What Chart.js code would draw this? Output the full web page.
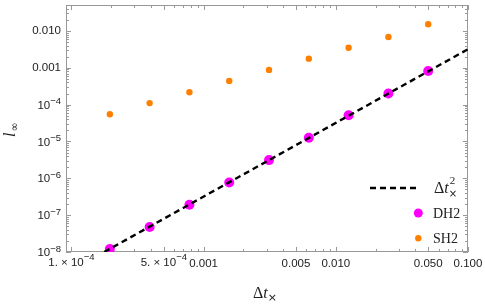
<!DOCTYPE html>
<html>
<head>
<meta charset="utf-8">
<script src="https://cdn.jsdelivr.net/npm/chart.js@4.4.1/dist/chart.umd.min.js"></script>
<style>
  html, body { margin: 0; padding: 0; background: #fff; }
  #wrap { width: 485px; height: 306px; }
</style>
</head>
<body>
<div id="wrap"><canvas id="errorChart" width="485" height="306"></canvas></div>
<script>
// time steps (halved each run) and the max-norm errors
const timeSteps = [0.0001953125, 0.000390625, 0.00078125, 0.0015625, 0.003125, 0.00625, 0.0125, 0.025, 0.05];
const dh2Errors = [1.2e-8, 4.75e-8, 1.91e-7, 7.7e-7, 3.12e-6, 1.26e-5, 5.18e-5, 2.0e-4, 8.23e-4];
const sh2Errors = [5.5e-5, 1.10e-4, 2.18e-4, 4.41e-4, 8.77e-4, 1.77e-3, 3.52e-3, 6.88e-3, 1.52e-2];

// reference slope line, end points
const refLineX = [0.000177, 0.1];
const refLineY = [1.0e-8, 3.2e-3];

// "^" marks a superscript part
const xTickValues = [1e-4, 5e-4, 1e-3, 5e-3, 1e-2, 5e-2, 1e-1];
const xTickLabels = ["1. × 10^−4", "5. × 10^−4", "0.001", "0.005", "0.010", "0.050", "0.100"];
const yTickValues = [1e-8, 1e-7, 1e-6, 1e-5, 1e-4, 1e-3, 1e-2];
const yTickLabels = ["10^−8", "10^−7", "10^−6", "10^−5", "10^−4", "0.001", "0.010"];

const legendLabels = ["Δt", "DH2", "SH2"];

const frameColor = "#999999";
const textColor = "#222222";
const dh2Color = "#ff00ff";
const sh2Color = "#ff8000";
const tickFont = "11.5px 'Liberation Sans'";
const supFont = "9.5px 'Liberation Sans'";

function logTickList(min, max) {
    const list = [];
    for (let e = -10; e <= 1; e++) {
        for (let k = 1; k <= 9; k++) {
            const v = k * Math.pow(10, e);
            if (v >= min * 0.9999 && v <= max * 1.0001) list.push(v);
        }
    }
    return list;
}

function isNear(list, v) {
    return list.some(t => Math.abs(t - v) / t < 1e-6);
}

// draws "base^exp" with a raised, smaller exponent
function drawSupLabel(ctx, text, x, y, align) {
    const [base, exp] = text.split("^");
    ctx.font = tickFont;
    const wb = ctx.measureText(base).width;
    ctx.font = supFont;
    const we = ctx.measureText(exp).width;
    let start = x;
    if (align === "center") start = x - (wb + we) / 2;
    if (align === "right") start = x - (wb + we);
    ctx.textAlign = "left";
    ctx.font = tickFont;
    ctx.fillText(base, start, y);
    ctx.font = supFont;
    ctx.fillText(exp, start + wb, y - 4);
}

const framePlugin = {
    id: "frame",
    beforeDatasetsDraw(chart) {
        const ctx = chart.ctx;
        const area = chart.chartArea;
        const xs = chart.scales.x;
        const ys = chart.scales.y;

        ctx.save();
        ctx.strokeStyle = frameColor;
        ctx.lineWidth = 1;
        ctx.strokeRect(area.left + 0.5, area.top + 0.5, area.right - area.left - 1, area.bottom - area.top - 1);

        ctx.beginPath();
        logTickList(xs.min, xs.max).forEach(v => {
            const px = Math.round(xs.getPixelForValue(v)) + 0.5;
            const len = isNear(xTickValues, v) ? 5 : 3;
            ctx.moveTo(px, area.bottom);
            ctx.lineTo(px, area.bottom - len);
            ctx.moveTo(px, area.top);
            ctx.lineTo(px, area.top + len);
        });
        logTickList(ys.min, ys.max).forEach(v => {
            const py = Math.round(ys.getPixelForValue(v)) + 0.5;
            const len = isNear(yTickValues, v) ? 5 : 3;
            ctx.moveTo(area.left, py);
            ctx.lineTo(area.left + len, py);
            ctx.moveTo(area.right, py);
            ctx.lineTo(area.right - len, py);
        });
        ctx.stroke();

        // tick labels with exponents (plain ones are drawn by the scales)
        ctx.fillStyle = textColor;
        ctx.textBaseline = "top";
        xTickValues.forEach((v, i) => {
            if (xTickLabels[i].includes("^")) {
                drawSupLabel(ctx, xTickLabels[i], xs.getPixelForValue(v), area.bottom + 5, "center");
            }
        });
        ctx.textBaseline = "middle";
        yTickValues.forEach((v, i) => {
            if (yTickLabels[i].includes("^")) {
                drawSupLabel(ctx, yTickLabels[i], area.left - 5, ys.getPixelForValue(v) + 1, "right");
            }
        });
        ctx.restore();
    },
    afterDraw(chart) {
        const ctx = chart.ctx;
        ctx.save();
        ctx.fillStyle = textColor;
        ctx.textBaseline = "alphabetic";

        // x axis title: Δt×
        ctx.textAlign = "left";
        ctx.font = "16px 'Liberation Serif'";
        let x = 253;
        ctx.fillText("Δ", x, 298);
        x += ctx.measureText("Δ").width;
        ctx.font = "italic 16px 'Liberation Serif'";
        ctx.fillText("t", x, 298);
        x += ctx.measureText("t").width;
        ctx.font = "11px 'DejaVu Sans'";
        ctx.fillText("×", x, 301);

        // y axis title: l∞
        ctx.save();
        ctx.translate(15, 137);
        ctx.rotate(-Math.PI / 2);
        ctx.font = "italic 16px 'Liberation Serif'";
        ctx.fillText("l", 0, 0);
        const lw = ctx.measureText("l").width;
        ctx.font = "11px 'DejaVu Sans'";
        ctx.fillText("∞", lw + 1, 3);
        ctx.restore();

        // legend
        ctx.strokeStyle = "#000";
        ctx.lineWidth = 2.4;
        ctx.setLineDash([6, 4]);
        ctx.beginPath();
        ctx.moveTo(370, 188);
        ctx.lineTo(418, 188);
        ctx.stroke();
        ctx.setLineDash([]);

        ctx.font = "16px 'Liberation Serif'";
        x = 434;
        ctx.fillText(legendLabels[0].charAt(0), x, 193);
        x += ctx.measureText("Δ").width;
        ctx.font = "italic 16px 'Liberation Serif'";
        ctx.fillText(legendLabels[0].charAt(1), x, 193);
        x += ctx.measureText("t").width;
        ctx.font = "11px 'Liberation Serif'";
        ctx.fillText("2", x + 1, 184);
        ctx.font = "10px 'DejaVu Sans'";
        ctx.fillText("×", x, 197);

        ctx.fillStyle = dh2Color;
        ctx.beginPath();
        ctx.arc(418.3, 213, 4.5, 0, Math.PI * 2);
        ctx.fill();
        ctx.fillStyle = sh2Color;
        ctx.beginPath();
        ctx.arc(418.3, 238.3, 3.2, 0, Math.PI * 2);
        ctx.fill();

        ctx.fillStyle = textColor;
        ctx.font = "14px 'Liberation Serif'";
        ctx.fillText(legendLabels[1], 433, 218);
        ctx.fillText(legendLabels[2], 433, 243);
        ctx.restore();
    }
};

const toPoints = (xs, ys) => xs.map((v, i) => ({ x: v, y: ys[i] }));

new Chart(document.getElementById("errorChart"), {
    type: "scatter",
    data: {
        datasets: [
            {
                label: "reference",
                data: toPoints(refLineX, refLineY),
                showLine: true,
                borderColor: "#000",
                borderWidth: 2.4,
                borderDash: [6, 4],
                pointRadius: 0,
                order: 0,
            },
            {
                label: "DH2",
                data: toPoints(timeSteps, dh2Errors),
                backgroundColor: dh2Color,
                borderWidth: 0,
                pointRadius: 5,
                order: 1,
            },
            {
                label: "SH2",
                data: toPoints(timeSteps, sh2Errors),
                backgroundColor: sh2Color,
                borderWidth: 0,
                pointRadius: 3.2,
                order: 2,
            },
        ],
    },
    options: {
        responsive: false,
        animation: false,
        maintainAspectRatio: false,
        layout: {
            padding: { top: 5, right: 17, left: 0, bottom: 0 },
        },
        plugins: {
            legend: { display: false },
            tooltip: { enabled: false },
        },
        scales: {
            x: {
                type: "logarithmic",
                min: 9.1e-5,
                max: 0.1,
                border: { display: false },
                grid: { display: false, drawTicks: false },
                afterBuildTicks: (scale) => {
                    scale.ticks = xTickValues.map(v => ({ value: v }));
                },
                afterFit: (scale) => {
                    scale.height = 54;
                    scale.paddingLeft = 0;
                    scale.paddingRight = 0;
                },
                ticks: {
                    autoSkip: false,
                    maxRotation: 0,
                    padding: 5,
                    color: textColor,
                    font: { family: "'Liberation Sans'", size: 11.5 },
                    callback: (value, index) => xTickLabels[index].includes("^") ? "" : xTickLabels[index],
                },
            },
            y: {
                type: "logarithmic",
                min: 1e-8,
                max: 0.0507,
                border: { display: false },
                grid: { display: false, drawTicks: false },
                afterBuildTicks: (scale) => {
                    scale.ticks = yTickValues.map(v => ({ value: v }));
                },
                afterFit: (scale) => {
                    scale.width = 66;
                    scale.paddingTop = 0;
                    scale.paddingBottom = 0;
                },
                ticks: {
                    autoSkip: false,
                    padding: 5,
                    color: textColor,
                    font: { family: "'Liberation Sans'", size: 11.5 },
                    callback: (value, index) => yTickLabels[index].includes("^") ? "" : yTickLabels[index],
                },
            },
        },
    },
    plugins: [framePlugin],
});
</script>
</body>
</html>
